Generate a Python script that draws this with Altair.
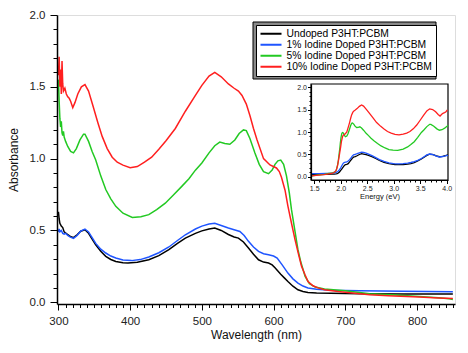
import altair as alt
import pandas as pd

series_names = ["Undoped P3HT:PCBM", "1% Iodine Doped P3HT:PCBM",
                "5% Iodine Doped P3HT:PCBM", "10% Iodine Doped P3HT:PCBM"]
series_colors = ["#000000", "#1f55ff", "#22c922", "#ff1f1f"]

undoped_wl = [300, 301, 302, 304, 306, 308, 312, 316, 321, 326, 331, 337, 342, 347, 352, 359, 366, 373, 380,
              390, 397, 410, 426, 440, 454, 466, 477, 491, 500, 510, 518, 527, 537, 545, 551, 558, 565, 572,
              579, 586, 593, 598, 602, 610, 615, 620, 627, 634, 641, 648, 660, 680, 720, 780, 850]
undoped_abs = [0.63, 0.58, 0.55, 0.53, 0.52, 0.49, 0.475, 0.46, 0.45, 0.47, 0.495, 0.505, 0.48, 0.44, 0.40,
               0.355, 0.32, 0.298, 0.284, 0.275, 0.273, 0.278, 0.296, 0.325, 0.366, 0.41, 0.447, 0.48, 0.497,
               0.51, 0.517, 0.50, 0.472, 0.455, 0.447, 0.42, 0.378, 0.335, 0.296, 0.28, 0.273, 0.26, 0.24,
               0.195, 0.17, 0.145, 0.112, 0.087, 0.075, 0.068, 0.064, 0.062, 0.06, 0.058, 0.057]

one_wl = [300, 301, 302, 304, 306, 308, 310, 313, 316, 321, 326, 331, 337, 342, 347, 352, 359, 366, 373, 380,
          390, 402, 414, 426, 440, 454, 466, 477, 491, 500, 510, 518, 527, 537, 545, 553, 559, 565, 572, 579,
          586, 593, 600, 605, 612, 620, 627, 634, 641, 648, 660, 680, 720, 780, 850]
one_abs = [0.49, 0.51, 0.49, 0.50, 0.48, 0.475, 0.48, 0.465, 0.455, 0.445, 0.465, 0.495, 0.51, 0.49, 0.45,
           0.41, 0.37, 0.343, 0.322, 0.308, 0.295, 0.29, 0.297, 0.315, 0.345, 0.385, 0.43, 0.47, 0.51, 0.53,
           0.545, 0.55, 0.535, 0.517, 0.505, 0.493, 0.465, 0.424, 0.385, 0.354, 0.338, 0.331, 0.322, 0.308,
           0.26, 0.203, 0.163, 0.134, 0.113, 0.10, 0.09, 0.083, 0.08, 0.076, 0.073]

five_wl = [300, 301, 302, 303, 304, 305, 306, 307, 308, 310, 313, 317, 321, 325, 330, 335, 337, 342, 347, 352,
           359, 366, 373, 380, 390, 403, 415, 426, 437, 449, 460, 472, 482, 491, 500, 510, 518, 525, 532, 539,
           546, 552, 558, 562, 567, 574, 580, 586, 593, 598, 602, 606, 610, 614, 618, 622, 625, 630, 634, 638,
           644, 650, 658, 671, 700, 734, 770, 803, 830, 845, 850]
five_abs = [1.55, 1.40, 1.28, 1.22, 1.26, 1.18, 1.16, 1.19, 1.15, 1.12, 1.085, 1.05, 1.04, 1.07, 1.13, 1.17,
            1.17, 1.12, 1.05, 0.99, 0.88, 0.785, 0.72, 0.668, 0.62, 0.59, 0.595, 0.61, 0.645, 0.69, 0.745,
            0.807, 0.86, 0.92, 0.97, 1.04, 1.09, 1.115, 1.105, 1.10, 1.13, 1.175, 1.20, 1.195, 1.14, 1.04,
            0.96, 0.91, 0.895, 0.92, 0.96, 0.985, 0.99, 0.96, 0.88, 0.76, 0.645, 0.49, 0.366, 0.28, 0.18,
            0.13, 0.106, 0.092, 0.08, 0.06, 0.05, 0.04, 0.032, 0.025, 0.02]

ten_wl = [300, 301, 302, 303, 304, 305, 306, 307, 309, 311, 313, 315, 317, 320, 323, 327, 332, 337, 342, 348,
          355, 361, 368, 375, 382, 390, 400, 410, 420, 430, 440, 450, 463, 477, 491, 500, 510, 518, 527, 537,
          545, 551, 556, 562, 567, 572, 577, 586, 595, 604, 608, 611, 616, 620, 625, 630, 635, 639, 644, 648,
          655, 662, 671, 690, 710, 734, 760, 803, 830, 850]
ten_abs = [1.58, 1.71, 1.50, 1.62, 1.45, 1.68, 1.52, 1.47, 1.49, 1.45, 1.43, 1.42, 1.40, 1.355, 1.39, 1.45,
           1.50, 1.515, 1.47, 1.37, 1.25, 1.155, 1.07, 1.01, 0.975, 0.955, 0.937, 0.945, 0.975, 1.01, 1.065,
           1.125, 1.21, 1.33, 1.44, 1.51, 1.575, 1.60, 1.57, 1.52, 1.49, 1.47, 1.44, 1.38, 1.30, 1.21, 1.13,
           1.00, 0.956, 0.935, 0.91, 0.87, 0.78, 0.67, 0.55, 0.435, 0.33, 0.25, 0.19, 0.145, 0.115, 0.10,
           0.087, 0.075, 0.065, 0.052, 0.045, 0.036, 0.03, 0.026]

frames = []
for name, wl, ab in [(series_names[0], undoped_wl, undoped_abs), (series_names[1], one_wl, one_abs),
                     (series_names[2], five_wl, five_abs), (series_names[3], ten_wl, ten_abs)]:
    frames.append(pd.DataFrame({"series": name, "wavelength": wl, "absorbance": ab}))
df = pd.concat(frames, ignore_index=True)
df["order"] = df["series"].map({n: i for i, n in enumerate(series_names)})

main_x_ticks = list(range(300, 851, 10))
main_y_ticks = [round(i * 0.1, 1) for i in range(21)]
inset_x_ticks = [round(1.5 + i * 0.1, 1) for i in range(26)]
inset_y_ticks = [round(i * 0.1, 1) for i in range(21)]

FONT = "Liberation Sans"
major5 = "abs(round(datum.value*10)) % 5 === 0"

color_enc = alt.Color(
    "series:N",
    scale=alt.Scale(domain=series_names, range=series_colors),
    sort=series_names,
    legend=alt.Legend(title=None, orient="none", legendX=199, legendY=10, symbolType="stroke",
                      symbolSize=441, symbolStrokeWidth=2, labelFontSize=10.3, labelFont=FONT,
                      labelColor="black", fillColor="white", strokeColor="black", padding=3.5,
                      clipHeight=10.6, rowPadding=0, labelOffset=4, zindex=2),
)

main_lines = alt.Chart(df).mark_line(strokeWidth=1.5, clip=True).encode(
    x=alt.X("wavelength:Q",
            scale=alt.Scale(domain=[298, 853], nice=False, zero=False),
            axis=alt.Axis(values=main_x_ticks, orient="bottom",
                          labelExpr="datum.value % 100 === 0 ? datum.label : ''",
                          tickSize={"condition": {"test": "datum.value % 100 === 0", "value": 6}, "value": 3.5},
                          labelPadding=5, labelFontSize=11.5, labelColor="#222", labelOverlap=False,
                          title="Wavelength (nm)", titleFontSize=12, titleY=25, titleColor="#111",
                          titleFontWeight="normal", titleFont=FONT, labelFont=FONT,
                          grid=False, domainColor="black", domainWidth=1.5, tickColor="black", zindex=1)),
    y=alt.Y("absorbance:Q",
            scale=alt.Scale(domain=[-0.012, 2.0], nice=False, zero=False),
            axis=alt.Axis(values=main_y_ticks, orient="left",
                          labelExpr=major5 + " ? format(datum.value, '.1f') : ''",
                          tickSize={"condition": {"test": major5, "value": 7}, "value": 4},
                          labelPadding=5, labelFontSize=11.5, labelColor="#222", labelOverlap=False,
                          title="Absorbance", titleFontSize=12, titleX=-37, titleColor="#111",
                          titleFontWeight="normal", titleFont=FONT, labelFont=FONT,
                          grid=False, domainColor="black", domainWidth=1.5, tickColor="black", zindex=1)),
    color=color_enc,
    order="order:Q",
)

frame_df = pd.DataFrame({"k": [0]})
legend_shadow = alt.Chart(frame_df).mark_rect(fill="#8a8a8a", stroke="black", strokeWidth=1).encode(
    x=alt.value(196), x2=alt.value(379), y=alt.value(7), y2=alt.value(64))

inset_frame = alt.Chart(frame_df).mark_rect(fill="white", stroke="black", strokeWidth=1.2).encode(
    x=alt.value(254), x2=alt.value(391), y=alt.value(69), y2=alt.value(165))

inset_lines = alt.Chart(df).transform_calculate(
    energy="1240 / datum.wavelength"
).transform_filter(
    "datum.energy >= 1.44 && datum.energy <= 4.03"
).mark_line(strokeWidth=1.3).encode(
    x=alt.X("energy:Q",
            scale=alt.Scale(domain=[1.44, 4.025], range=[254, 391], nice=False, zero=False),
            axis=alt.Axis(values=inset_x_ticks, orient="bottom", offset=-124,
                          labelExpr=major5 + " ? format(datum.value, '.1f') : ''",
                          tickSize={"condition": {"test": major5, "value": 3.5}, "value": 2},
                          labelPadding=1, labelFontSize=7, labelColor="#222", labelOverlap=False,
                          title="Energy (eV)", titleFontSize=7.5, titleY=12.5, titleX=322.5,
                          titleAlign="center", titleAnchor="middle", titleColor="#111",
                          titleFontWeight="normal", titleFont=FONT, labelFont=FONT,
                          grid=False, domainColor="black", domainWidth=1.2, tickColor="black", zindex=1)),
    y=alt.Y("absorbance:Q",
            scale=alt.Scale(domain=[-0.067, 2.067], range=[165, 69], nice=False, zero=False),
            axis=alt.Axis(values=inset_y_ticks, orient="left", offset=-254,
                          labelExpr=major5 + " ? format(datum.value, '.1f') : ''",
                          tickSize={"condition": {"test": major5, "value": 3.5}, "value": 2},
                          labelPadding=1, labelFontSize=7, labelColor="#222", labelOverlap=False,
                          labelFont=FONT,
                          title=None, grid=False, domainColor="black", domainWidth=1.2,
                          tickColor="black", zindex=1)),
    color=alt.Color("series:N", scale=alt.Scale(domain=series_names, range=series_colors), legend=None),
    order="order:Q",
)

chart = alt.layer(legend_shadow, main_lines, inset_frame, inset_lines).resolve_scale(
    x="independent", y="independent"
).resolve_axis(
    x="independent", y="independent"
).properties(
    width=398, height=289,
    autosize=alt.AutoSizeParams(type="none"),
    padding={"left": 49, "top": 7, "right": 5, "bottom": 44},
).configure_view(
    stroke="black", strokeWidth=1.5
).configure_axis(
    labelFont=FONT, titleFont=FONT, titleFontWeight="normal"
).configure(background="white")

chart.save("out.html", embed_options={"renderer": "svg", "actions": False})
